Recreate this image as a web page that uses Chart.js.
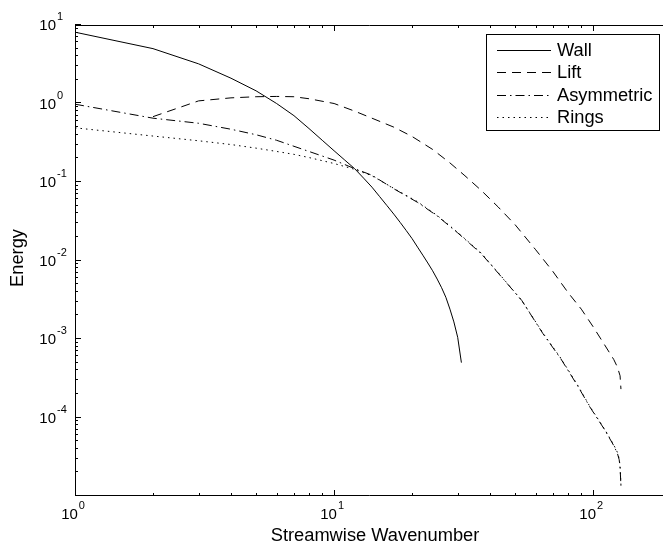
<!DOCTYPE html>
<html>
<head>
<meta charset="utf-8">
<script src="https://cdn.jsdelivr.net/npm/chart.js@4.4.1/dist/chart.umd.min.js"></script>
<style>
html, body { margin: 0; padding: 0; background: #fff; overflow: hidden; }
</style>
</head>
<body>
<canvas id="energy-chart" width="663" height="546"></canvas>
<script>
const canvas = document.getElementById('energy-chart');
const ctx = canvas.getContext('2d');

// wavenumber / energy
const wallK = [1, 2, 3, 4, 5, 6, 7, 8, 9, 10, 11, 12, 13, 14, 15, 16, 17, 18, 19, 20, 21, 22, 23, 24, 25, 26, 27, 28, 29, 30, 31];
const wallE = [8.1, 5.0, 3.2, 2.1, 1.45, 1.0, 0.70, 0.48, 0.34, 0.25, 0.19, 0.148, 0.112, 0.086, 0.065, 0.050, 0.039, 0.0305, 0.024, 0.019, 0.0148, 0.0117, 0.0093, 0.0074, 0.0058, 0.0045, 0.0034, 0.0024, 0.00165, 0.00105, 0.0005];

const liftK = [2, 3, 4, 5, 6, 7, 8, 10, 12, 14, 17, 20, 24, 28, 32, 37, 43, 50, 60, 70, 80, 90, 100, 110, 120, 124, 127, 128];
const liftE = [0.68, 1.08, 1.18, 1.22, 1.23, 1.22, 1.15, 1.0, 0.80, 0.65, 0.50, 0.38, 0.26, 0.175, 0.12, 0.078, 0.048, 0.0285, 0.0137, 0.0072, 0.0039, 0.0024, 0.00143, 0.00087, 0.00055, 0.00044, 0.00034, 0.00023];

const asymK = [1, 2, 3, 4, 5, 6, 7, 8, 10, 12, 14, 17, 21, 25, 30, 37, 43, 53, 64, 75, 87, 97, 111, 120, 124, 126, 127, 128];
const asymE = [0.98, 0.65, 0.56, 0.47, 0.40, 0.34, 0.285, 0.245, 0.19, 0.148, 0.122, 0.082, 0.055, 0.037, 0.0225, 0.0122, 0.0069, 0.0031, 0.00117, 0.00056, 0.000255, 0.000137, 0.000069, 0.000044, 0.000035, 0.000029, 0.000023, 0.0000135];

const ringsK = [1, 2, 3, 4, 5, 6, 7, 8, 10, 12, 14, 17, 21, 25, 30, 37, 43, 53, 64, 75, 87, 97, 111, 120, 124, 126, 127, 128];
const ringsE = [0.49, 0.385, 0.335, 0.30, 0.27, 0.245, 0.225, 0.205, 0.172, 0.145, 0.12, 0.083, 0.056, 0.0375, 0.0228, 0.0124, 0.0070, 0.0031, 0.00119, 0.00057, 0.00026, 0.000139, 0.00007, 0.000045, 0.000036, 0.00003, 0.000024, 0.0000138];

const seriesNames = ['Wall', 'Lift', 'Asymmetric', 'Rings'];
const xDecades = [0, 1, 2];
const yDecades = [1, 0, -1, -2, -3, -4];

const X_MIN = 1, X_MAX = 186;
const Y_MIN = 1e-5, Y_MAX = 10;
const FONT = '"Liberation Sans", Arial, Helvetica, sans-serif';

function pts(k, e) {
    return k.map(function (v, i) { return { x: v, y: e[i] }; });
}

function line(label, k, e, dash) {
    return {
        label: label,
        data: pts(k, e),
        borderColor: '#000',
        borderWidth: 1,
        borderDash: dash,
        pointRadius: 0,
        tension: 0,
        fill: false
    };
}

function draw_pow(c, exp, x, y, align) {
    // "10" with a raised exponent, MATLAB style
    c.font = '15px ' + FONT;
    c.textBaseline = 'middle';
    let bw = c.measureText('10').width;
    let bx = align === 'right' ? x - bw : x - bw / 2;
    c.textAlign = 'left';
    c.fillText('10', bx, y);
    c.font = '11px ' + FONT;
    c.fillText(String(exp), bx + bw + 1, y - 9);
}

const matlabAxes = {
    id: 'matlabAxes',
    afterDatasetsDraw(chart) {
        const c = chart.ctx;
        const a = chart.chartArea;
        const xs = chart.scales.x;
        const ys = chart.scales.y;
        c.save();
        c.strokeStyle = '#000';
        c.fillStyle = '#000';
        c.lineWidth = 1;
        c.setLineDash([]);

        // box (right side is off the picture)
        c.beginPath();
        c.moveTo(a.right, a.top + 0.5);
        c.lineTo(a.left + 0.5, a.top + 0.5);
        c.lineTo(a.left + 0.5, a.bottom - 0.5);
        c.lineTo(a.right, a.bottom - 0.5);
        c.stroke();

        // ticks pointing inward
        c.beginPath();
        for (let e = -5; e <= 2; e++) {
            for (let m = 1; m <= 9; m++) {
                let v = m * Math.pow(10, e);
                let len = m === 1 ? 6 : 3;
                if (v >= X_MIN && v <= X_MAX) {
                    let px = Math.round(xs.getPixelForValue(v)) + 0.5;
                    c.moveTo(px, a.bottom);
                    c.lineTo(px, a.bottom - len);
                    c.moveTo(px, a.top);
                    c.lineTo(px, a.top + len);
                }
                if (v >= Y_MIN && v <= Y_MAX) {
                    let py = Math.round(ys.getPixelForValue(v)) - 0.5;
                    c.moveTo(a.left, py);
                    c.lineTo(a.left + len, py);
                }
            }
        }
        c.stroke();

        // tick labels
        yDecades.forEach(function (e) {
            let py = ys.getPixelForValue(Math.pow(10, e));
            draw_pow(c, e, 56, py + 1, 'right');
        });
        xDecades.forEach(function (e) {
            let px = xs.getPixelForValue(Math.pow(10, e));
            draw_pow(c, e, px - 5.5, 515, 'center');
        });

        // axis titles
        c.font = '18.3px ' + FONT;
        c.textAlign = 'center';
        c.textBaseline = 'middle';
        c.fillText('Streamwise Wavenumber', 375, 536);
        c.save();
        c.translate(18, 258);
        c.rotate(-Math.PI / 2);
        c.fillText('Energy', 0, 0);
        c.restore();

        // legend
        const lx = 486.5, ly = 34.5, lw = 173, lh = 96;
        c.fillStyle = '#fff';
        c.fillRect(lx, ly, lw, lh);
        c.strokeRect(lx, ly, lw, lh);
        c.fillStyle = '#000';
        c.textAlign = 'left';
        chart.data.datasets.forEach(function (ds, i) {
            let ry = 50 + i * 22.4;
            c.setLineDash(ds.borderDash || []);
            c.beginPath();
            c.moveTo(497, Math.round(ry) + 0.5);
            c.lineTo(551, Math.round(ry) + 0.5);
            c.stroke();
            c.setLineDash([]);
            c.fillText(ds.label, 557, ry + 1);
        });
        c.restore();
    }
};

new Chart(ctx, {
    type: 'line',
    data: {
        datasets: [
            line(seriesNames[0], wallK, wallE, []),
            line(seriesNames[1], liftK, liftE, [9, 6]),
            line(seriesNames[2], asymK, asymE, [9, 4, 1.5, 4]),
            line(seriesNames[3], ringsK, ringsE, [1.5, 4])
        ]
    },
    options: {
        responsive: false,
        animation: false,
        devicePixelRatio: 1,
        layout: { padding: { left: 75, top: 25, right: 0, bottom: 50 } },
        plugins: { legend: { display: false }, tooltip: { enabled: false } },
        scales: {
            x: { type: 'logarithmic', min: X_MIN, max: X_MAX, display: false },
            y: { type: 'logarithmic', min: Y_MIN, max: Y_MAX, display: false }
        }
    },
    plugins: [matlabAxes]
});
</script>
</body>
</html>
